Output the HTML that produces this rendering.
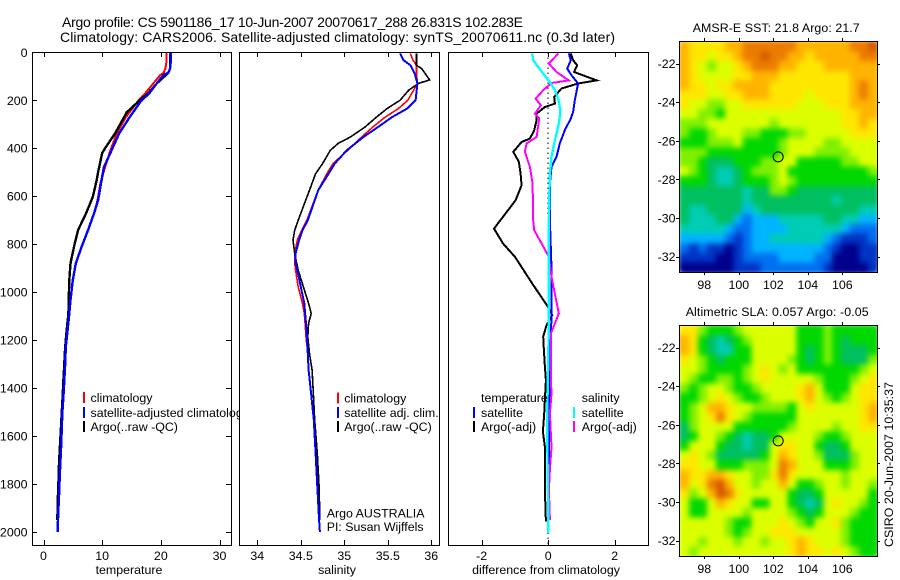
<!DOCTYPE html>
<html lang="en">
<head>
<meta charset="utf-8">
<title>Argo profile chart</title>
<style>
html,body{margin:0;padding:0;background:#fff;width:900px;height:580px;overflow:hidden}
svg{display:block;font-family:"Liberation Sans",sans-serif;font-size:12.4px;fill:#000}
</style>
</head>
<body>
<svg id="chart" width="900" height="580" viewBox="0 0 900 580" xmlns="http://www.w3.org/2000/svg">
<defs>
<filter id="map-smooth" x="-10%" y="-10%" width="120%" height="120%" color-interpolation-filters="sRGB"><feGaussianBlur stdDeviation="3"/></filter>
</defs>
<rect width="900" height="580" fill="#fff"/>
<text x="62" y="27" font-size="14" textLength="461">Argo profile: CS 5901186_17 10-Jun-2007 20070617_288 26.831S 102.283E</text>
<text x="60" y="42" font-size="14" textLength="555">Climatology: CARS2006. Satellite-adjusted climatology: synTS_20070611.nc (0.3d later)</text>
<text transform="translate(893,547) rotate(-90)" textLength="165">CSIRO 20-Jun-2007 10:35:37</text>
</svg>
<script>
const depthTicks = [0,200,400,600,800,1000,1200,1400,1600,1800,2000];
const tempTicks = [0,10,20,30];
const salTicks = [34,34.5,35,35.5,36];
const diffTicks = [-2,0,2];
const lonTicks = [98,100,102,104,106];
const latTicks = [-22,-24,-26,-28,-30,-32];

const tempDepths = [0,33,65,85,96,130,172,200,270,338,408,479,546,617,672,741,811,880,950,1033,1089,1158,1228,1297,1367,1437,1506,1576,1645,1715,1784,1853,1923,2000];
const tempClim = [21,21,20.8,20.5,19.85,18.7,17.3,16.2,14.05,12.5,11.4,10.5,9.7,9.2,8.6,7.6,6.5,5.5,5,4.6,4.4,4.1,3.8,3.7,3.5,3.4,3.2,3.1,3,2.87,2.75,2.65,2.5,2.4];
const tempSat = [21.7,21.7,21.6,21.3,20.4,19.3,18,16.7,14.7,12.9,11.6,10.3,9.8,9.3,8.6,7.6,6.5,5.5,5,4.6,4.4,4.1,3.8,3.7,3.55,3.4,3.2,3.1,3,2.87,2.75,2.65,2.5,2.4];
const tempArgoDepths = [5,33,65,85,130,172,200,250,338,400,420,500,533,603,672,741,811,880,950,1033,1089,1158,1228,1297,1367,1437,1506,1576,1645,1715,1784,1853,1950];
const tempArgo = [21.6,21.6,21.6,21.3,19.3,17.8,16.4,14.2,12.2,10.5,10,9.3,9.06,8.4,7.24,5.9,5.2,4.6,4.4,4.3,4.25,3.95,3.7,3.55,3.4,3.25,3.1,2.95,2.8,2.65,2.55,2.45,2.35];

const salDepths = [5,33,54,89,130,200,235,270,311,353,408,464,506,575,700,742,783,839,880,908,978,1047,1089,1130,1186,1256,1325,1394,1533,1672,1811,1950,2000];
const salClim = [35.76,35.79,35.83,35.83,35.84,35.73,35.62,35.47,35.33,35.2,35.04,34.87,34.8,34.7,34.57,34.51,34.46,34.43,34.43,34.44,34.47,34.52,34.54,34.55,34.56,34.58,34.59,34.61,34.65,34.67,34.69,34.71,34.72];
const salSat = [35.64,35.68,35.76,35.81,35.84,35.82,35.72,35.55,35.39,35.22,35.03,34.89,34.82,34.7,34.58,34.52,34.48,34.44,34.44,34.46,34.5,34.54,34.55,34.56,34.57,34.58,34.59,34.61,34.65,34.67,34.69,34.71,34.72];
const salArgoDepths = [5,33,54,68,115,130,158,200,235,270,311,353,380,408,464,506,575,700,742,783,839,908,978,1047,1089,1130,1186,1256,1325,1394,1533,1672,1811,1950];
const salArgo = [35.83,35.83,35.83,35.89,35.98,35.85,35.74,35.64,35.49,35.37,35.24,35.07,34.93,34.84,34.75,34.67,34.6,34.47,34.43,34.41,34.43,34.47,34.53,34.59,34.62,34.59,34.58,34.6,34.63,34.64,34.66,34.69,34.71,34.72];

const diffTSatDepths = [5,33,68,96,130,200,249,276,325,380,436,478,547,700,900,1100,1300,1500,1700,1900,1990];
const diffTSat = [0.62,0.68,0.57,0.7,0.9,0.8,0.75,0.68,0.5,0.35,0.25,0.1,0.05,0.05,0.1,0.1,0.05,0.03,0.02,0.02,0];
const diffTArgoDepths = [5,33,54,82,117,130,151,186,214,228,256,283,325,360,374,415,457,506,554,617,735,797,853,964,1058,1096,1138,1186,1242,1311,1367,1506,1582,1645,1742,1825,1957];
const diffTArgo = [0.68,0.75,0.87,0.78,1.46,0.9,0.4,0.18,0.2,-0.1,-0.35,-0.35,-0.42,-0.55,-0.8,-1.05,-0.88,-0.83,-0.8,-0.98,-1.63,-1.36,-1,-0.48,-0.02,0.12,-0.05,-0.15,-0.13,-0.1,-0.07,-0.12,-0.16,-0.1,-0.1,-0.1,-0.07];
const diffSSatDepths = [5,33,61,89,130,158,200,249,297,367,436,506,617,700,900,1100,1300,1500,1700,1900,2005];
const diffSSat = [-0.48,-0.45,-0.3,-0.15,0.08,0.2,0.32,0.37,0.32,0.2,0.1,0.05,0.03,0.02,0.02,0.02,0,-0.03,-0.02,0,0];
const diffSArgoDepths = [5,47,82,117,128,158,193,221,256,276,353,380,415,478,547,700,742,797,853,936,1006,1089,1138,1172,1367,1422,1506,1645,1740,1825,1950];
const diffSArgo = [0.3,0.02,0.25,0.62,0.1,-0.15,-0.38,-0.22,-0.4,-0.27,-0.35,-0.65,-0.7,-0.55,-0.47,-0.45,-0.42,-0.2,0.02,0.1,0.2,0.32,0.18,0.08,0.08,0.1,0.05,0.1,0.05,0.02,0.05];
const zeroLineDepths = [0,2050];
const zeroLineValues = [0,0];

const argoLon = 102.283;
const argoLat = -26.831;

const sstGrid = [
[10,9,9,9,9,10,10,11,11,11,11,11,11,10,10,10,10,10,10,11,11,12],
[10,9,9,8,9,9,10,11,11,12,11,11,10,10,9,10,10,10,10,10,11,11],
[10,9,8,7,8,8,9,10,11,11,11,10,10,9,9,9,10,10,10,10,10,10],
[10,9,8,8,8,8,9,9,10,10,10,9,9,9,9,9,9,9,9,10,10,10],
[10,9,9,8,9,9,10,10,10,10,9,9,9,9,9,9,9,9,9,10,11,10],
[9,9,9,8,8,9,9,10,10,10,9,9,9,9,8,9,9,9,9,10,11,10],
[9,8,8,7,7,8,8,9,9,9,9,9,9,8,8,8,9,9,9,10,10,10],
[8,8,7,7,6,8,8,8,8,8,8,8,8,8,8,8,8,8,9,9,10,10],
[7,7,7,8,8,8,8,8,8,8,7,8,8,8,8,8,8,8,9,9,10,9],
[7,6,6,7,8,8,8,7,7,6,6,6,7,7,8,8,8,8,8,9,9,9],
[6,6,6,7,7,7,8,6,6,6,6,7,8,8,8,8,7,7,8,8,8,8],
[7,7,7,6,6,6,6,6,6,6,6,7,8,8,8,7,7,7,7,8,8,8],
[7,7,6,5,5,5,6,6,6,7,7,8,8,6,6,6,6,6,7,7,8,8],
[8,7,6,5,4,4,5,6,7,7,7,8,6,6,6,6,6,6,6,6,6,7],
[6,6,6,5,4,4,5,6,6,6,7,8,7,6,6,6,6,6,6,6,6,6],
[5,5,5,5,5,5,5,4,5,5,7,7,6,5,5,5,5,5,5,5,5,5],
[5,5,5,5,5,5,5,4,5,5,5,5,5,5,5,5,5,4,5,5,5,5],
[5,4,4,5,5,5,5,3,4,5,5,5,5,5,5,5,5,5,5,5,4,4],
[5,4,4,4,5,5,3,2,3,3,3,4,4,4,4,4,5,5,4,4,3,3],
[4,4,4,4,4,3,2,2,3,3,3,3,4,4,4,4,4,4,3,2,2,2],
[3,3,3,3,3,2,1,2,3,3,4,4,4,4,4,4,3,2,1,1,1,2],
[2,1,2,1,1,0,1,2,3,3,3,3,3,3,3,3,2,1,0,0,1,1],
[1,1,1,1,0,0,1,2,2,2,2,3,3,3,3,2,2,0,0,0,1,1],
[0,0,0,0,0,0,1,1,1,2,2,2,2,2,2,2,1,0,0,0,0,1]
];
const slaGrid = [
[9,9,7,6,6,6,7,8,8,8,8,8,8,6,6,6,7,6,6,6,6,6],
[10,9,6,5,4,5,6,7,8,8,8,8,8,6,6,6,7,6,5,6,6,6],
[10,9,6,5,4,4,6,6,8,8,8,8,8,6,5,6,7,6,5,5,5,6],
[9,8,7,6,5,6,6,6,8,8,8,8,7,6,5,6,7,6,5,5,5,7],
[8,8,7,6,6,6,6,7,8,9,8,7,8,6,6,6,6,6,6,6,7,8],
[8,7,6,6,7,7,6,7,8,9,8,8,8,8,8,7,6,6,6,7,8,9],
[7,6,7,8,8,7,6,6,7,8,8,8,8,9,10,8,6,6,6,8,9,9],
[6,6,7,8,9,8,7,6,6,7,8,8,8,9,10,8,7,6,7,8,9,9],
[6,7,8,10,10,9,8,8,7,7,7,7,6,8,9,8,8,8,8,8,9,10],
[6,7,8,9,11,9,8,7,6,6,6,6,6,8,8,8,8,8,8,8,9,10],
[5,7,8,8,8,8,6,6,6,6,6,6,7,8,8,8,8,7,8,8,9,9],
[5,6,8,8,7,6,5,4,5,5,6,8,8,8,8,7,6,6,7,8,8,8],
[6,8,8,8,6,5,5,4,5,5,8,9,9,8,8,6,5,5,6,8,8,8],
[8,9,8,7,5,5,5,5,5,6,8,10,9,8,8,7,5,5,5,7,8,8],
[9,9,8,8,6,6,6,7,7,7,8,11,10,8,8,8,6,6,6,7,8,8],
[10,9,9,10,10,9,8,8,7,7,9,11,9,8,8,8,8,8,7,8,8,8],
[10,8,9,11,12,10,8,8,7,8,8,10,8,6,6,7,8,8,7,8,8,7],
[9,7,8,10,12,11,9,8,8,8,8,8,6,5,5,6,8,8,8,8,8,6],
[8,6,6,8,10,9,8,8,6,6,8,8,6,5,4,5,8,9,8,8,7,6],
[8,6,6,8,8,8,8,7,8,8,8,8,7,6,5,6,8,8,8,7,6,6],
[8,8,8,8,8,7,6,6,8,8,8,9,8,7,6,8,8,9,7,6,6,6],
[8,8,8,8,8,7,6,7,8,8,9,9,9,8,8,8,8,8,7,6,6,6],
[8,8,7,8,8,8,7,8,8,7,8,8,9,10,9,8,8,8,7,6,6,6],
[8,7,8,8,8,8,8,8,8,8,8,8,9,10,9,9,8,9,8,7,6,6]
];
const levelColors = ['#00008c','#0034c4','#0070f0','#00b4ff','#00cdb4','#00bf60','#00d800','#80f000','#dcff00','#ffe600','#ffb400','#ec7c00','#d45a00'];

const svg = document.getElementById('chart');
const NS = 'http://www.w3.org/2000/svg';
function make(tag, attrs, text, parent) {
  const el = document.createElementNS(NS, tag);
  for (const k in attrs) el.setAttribute(k, attrs[k]);
  if (text !== undefined && text !== null) el.textContent = text;
  (parent || svg).appendChild(el);
  return el;
}
function linear(d0, d1, r0, r1) {
  return v => r0 + (v - d0) * (r1 - r0) / (d1 - d0);
}
const yDepth = linear(0, 2000, 52.3, 532);

function drawProfilePanel(name, left, right, xAt, ticks, label, labelX, leftTicks, series) {
  const g = make('g', {});
  
  
  const bg = make('rect', {x: left, y: 52, width: right - left, height: 493, fill: '#fff'}, null, g);
  
  
  series.forEach(s => {
    const pts = s.depths.map((d, i) => xAt(s.values[i]).toFixed(1) + ',' + yDepth(d).toFixed(1)).join(' ');
    const line = make('polyline', {points: pts, fill: 'none', stroke: s.color, 'stroke-width': s.width, 'shape-rendering': 'crispEdges'}, null, g);
    if (s.dash) line.setAttribute('stroke-dasharray', s.dash);
    
    
  });
  const frame = make('rect', {x: left + 0.5, y: 52.5, width: right - left, height: 493, fill: 'none', stroke: '#000', 'stroke-width': 1, 'shape-rendering': 'crispEdges'}, null, g);
  
  
  ticks.forEach(t => {
    const x = Math.round(xAt(t)) + 0.5;
    const tk = make('path', {d: `M${x} 52V57M${x} 545V540`, stroke: '#000', fill: 'none'}, null, g);
    
    
    const tl = make('text', {x: xAt(t), y: 560, 'text-anchor': 'middle'}, String(t), g);
    
    
  });
  if (leftTicks) {
    depthTicks.forEach(d => {
      const y = Math.round(yDepth(d)) + 0.5;
      const tk = make('path', {d: `M${left} ${y}H${left + 5}M${right} ${y}H${right - 5}`, stroke: '#000', fill: 'none'}, null, g);
      
      
      const tl = make('text', {x: 27.5, y: yDepth(d) + 4.5, 'text-anchor': 'end'}, String(d), g);
      
      
    });
  }
  const al = make('text', {x: labelX, y: 574, 'text-anchor': 'middle'}, label, g);
  
  
  return g;
}

function drawLegend(name, entries) {
  entries.forEach(e => {
    if (e.color) {
      const bar = make('rect', {x: e.barX, y: e.y - 10, width: 2, height: 11, fill: e.color, 'shape-rendering': 'crispEdges'});
      
      
    }
    const t = make('text', {x: e.textX, y: e.y}, e.text);
    
    
  });
}

function drawMap(name, title, titleX, titleLen, top, grid) {
  const left = 680, right = 877, h = 230;
  const x = linear(98, 106, 704.3, 842.3);
  const y = linear(-22, -32, top + 21.6, top + 214.6);
  const g = make('g', {});
  
  
  const clip = make('clipPath', {id: name + '-clip'}, null, g);
  make('rect', {x: left, y: top, width: right - left, height: h}, null, clip);
  const clipped = make('g', {'clip-path': `url(#${name}-clip)`}, null, g);
  
  
  const under = make('use', {href: '#' + name + '-cells'}, null, clipped);
  
  
  const cells = make('g', {id: name + '-cells', filter: 'url(#map-smooth)'}, null, clipped);
  
  
  const rows = grid.length, cols = grid[0].length;
  const cw = (right - left) / cols, ch = h / rows;
  grid.forEach((row, r) => row.forEach((v, c) => {
    const cell = make('rect', {x: left + c * cw, y: top + r * ch, width: cw + 0.5, height: ch + 0.5, fill: levelColors[v], 'shape-rendering': 'crispEdges'}, null, cells);
    
    
  }));
  const frame = make('rect', {x: left - 0.5, y: top - 0.5, width: right - left + 1, height: h + 1, fill: 'none', stroke: '#000', 'shape-rendering': 'crispEdges'}, null, g);
  
  
  lonTicks.forEach(t => {
    const px = Math.round(x(t)) + 0.5;
    const tk = make('path', {d: `M${px} ${top - 1}v-3M${px} ${top + h}v3`, stroke: '#000', fill: 'none'}, null, g);
    
    
    const tl = make('text', {x: x(t), y: top + h + 17, 'text-anchor': 'middle'}, String(t), g);
    
    
  });
  latTicks.forEach(t => {
    const py = Math.round(y(t)) + 0.5;
    const tk = make('path', {d: `M${left - 1} ${py}h-3M${right} ${py}h3`, stroke: '#000', fill: 'none'}, null, g);
    
    
    const tl = make('text', {x: 675.5, y: y(t) + 4.5, 'text-anchor': 'end'}, String(t), g);
    
    
  });
  const c = make('circle', {cx: x(argoLon), cy: y(argoLat), r: 5, fill: 'none', stroke: '#000', 'stroke-width': 1}, null, g);
  
  
  const tt = make('text', {x: titleX, y: top - 10, textLength: titleLen}, title, g);
  
  
}

drawProfilePanel('temperature', 32, 231, linear(0, 30, 43.5, 219.5), tempTicks, 'temperature', 129, true, [
  {name: 'temperature-climatology-line', depths: tempDepths, values: tempClim, color: '#f00', width: 2},
  {name: 'temperature-argo-line', depths: tempArgoDepths, values: tempArgo, color: '#000', width: 2.4},
  {name: 'temperature-satellite-line', depths: tempDepths, values: tempSat, color: '#00f', width: 2.4}
]);
drawLegend('temperature-legend', [
  {color: '#f00', barX: 83, y: 402, textX: 90.5, text: 'climatology'},
  {color: '#00f', barX: 83, y: 417, textX: 90.5, text: 'satellite-adjusted climatology'},
  {color: '#000', barX: 83, y: 431, textX: 90.5, text: 'Argo(..raw -QC)'}
]);
drawProfilePanel('salinity', 239, 439, linear(34, 36, 257.3, 431.3), salTicks, 'salinity', 337, false, [
  {name: 'salinity-climatology-line', depths: salDepths, values: salClim, color: '#f00', width: 1.6},
  {name: 'salinity-argo-line', depths: salArgoDepths, values: salArgo, color: '#000', width: 1.6},
  {name: 'salinity-satellite-line', depths: salDepths, values: salSat, color: '#00f', width: 2}
]);
drawLegend('salinity-legend', [
  {color: '#f00', barX: 337, y: 402.5, textX: 344.3, text: 'climatology'},
  {color: '#00f', barX: 337, y: 417, textX: 344.3, text: 'satellite adj. clim.'},
  {color: '#000', barX: 337, y: 431, textX: 344.3, text: 'Argo(..raw -QC)'},
  {barX: 0, y: 517.5, textX: 326.7, text: 'Argo AUSTRALIA'},
  {barX: 0, y: 531, textX: 326.7, text: 'PI: Susan Wijffels'}
]);
drawProfilePanel('difference', 448, 648, linear(-2, 2, 481.7, 614.7), diffTicks, 'difference from climatology', 546, false, [
  {name: 'zero-reference-line', depths: zeroLineDepths, values: zeroLineValues, color: '#000', width: 1, dash: '1.5 3.5'},
  {name: 'difference-temperature-argo-line', depths: diffTArgoDepths, values: diffTArgo, color: '#000', width: 2},
  {name: 'difference-temperature-satellite-line', depths: diffTSatDepths, values: diffTSat, color: '#00f', width: 2},
  {name: 'difference-salinity-argo-line', depths: diffSArgoDepths, values: diffSArgo, color: '#f0f', width: 2},
  {name: 'difference-salinity-satellite-line', depths: diffSSatDepths, values: diffSSat, color: '#0ff', width: 2.4}
]);
drawLegend('difference-legend', [
  {barX: 0, y: 402, textX: 481, text: 'temperature'},
  {color: '#00f', barX: 473, y: 417, textX: 481, text: 'satellite'},
  {color: '#000', barX: 473, y: 431, textX: 481, text: 'Argo(-adj)'},
  {barX: 0, y: 402, textX: 581.7, text: 'salinity'},
  {color: '#0ff', barX: 573, y: 417, textX: 581.7, text: 'satellite'},
  {color: '#f0f', barX: 573, y: 431, textX: 581.7, text: 'Argo(-adj)'}
]);
drawMap('sst-map', 'AMSR-E SST: 21.8 Argo: 21.7', 692.7, 167, 42, sstGrid);
drawMap('sla-map', 'Altimetric SLA: 0.057 Argo: -0.05', 685.7, 183, 326, slaGrid);
</script>
</body>
</html>
